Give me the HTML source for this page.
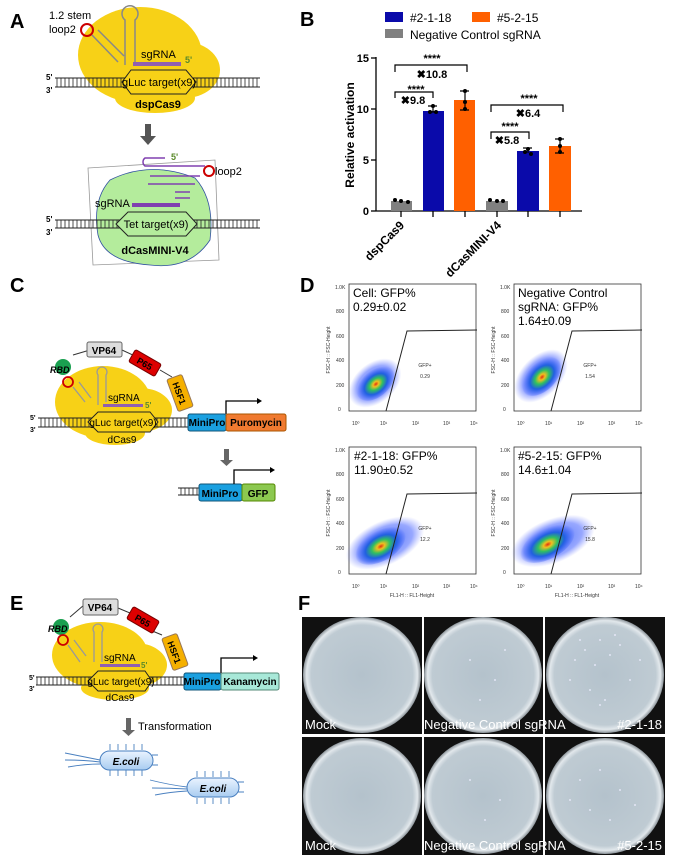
<!DOCTYPE html>
<html><head><meta charset="utf-8"><style>
body{margin:0;background:#fff}
svg{display:block;font-family:"Liberation Sans",Arial,sans-serif}
</style></head><body>
<svg width="676" height="860" viewBox="0 0 676 860" xmlns="http://www.w3.org/2000/svg">
<defs>
<radialGradient id="cl" cx="50%" cy="55%" r="50%">
<stop offset="0" stop-color="#e03010"/><stop offset="0.15" stop-color="#f0c020"/><stop offset="0.35" stop-color="#30c060"/><stop offset="0.6" stop-color="#2060e0"/><stop offset="1" stop-color="#3050ff" stop-opacity="0"/>
</radialGradient>
<radialGradient id="cb" cx="50%" cy="50%" r="50%">
<stop offset="0" stop-color="#2050f0" stop-opacity="0.8"/><stop offset="0.7" stop-color="#3050ff" stop-opacity="0.5"/><stop offset="1" stop-color="#6070ff" stop-opacity="0"/>
</radialGradient>
<radialGradient id="pl" cx="50%" cy="50%" r="50%">
<stop offset="0" stop-color="#b4c2cc"/><stop offset="0.86" stop-color="#bfcbd3"/><stop offset="0.94" stop-color="#e2e8ec"/><stop offset="1" stop-color="#8a9298"/>
</radialGradient>
<linearGradient id="ec" x1="0" y1="0" x2="0" y2="1"><stop offset="0" stop-color="#eaf3ff"/><stop offset="1" stop-color="#a8ccf0"/></linearGradient>
<pattern id="lad" width="4" height="9" patternUnits="userSpaceOnUse"><rect width="4" height="9" fill="none"/><line x1="1" y1="0" x2="1" y2="9" stroke="#222" stroke-width="0.8"/></pattern>
</defs>

<!-- ===== Panel A ===== -->
<text x="10" y="28" font-size="20" font-weight="bold">A</text>
<g fill="#f7d117">
<ellipse cx="140" cy="55" rx="62" ry="48"/><ellipse cx="185" cy="70" rx="35" ry="28"/><ellipse cx="155" cy="98" rx="40" ry="15"/>
</g>
<text x="49" y="19" font-size="11">1.2 stem</text><text x="49" y="33" font-size="11">loop2</text>
<circle cx="87" cy="30" r="6" fill="none" stroke="#c00" stroke-width="2"/>
<path d="M92 35 L118 62 M98 30 L124 56" stroke="#888" stroke-width="1.5" fill="none"/>
<path d="M125 65 L125 20 A8 8 0 1 1 135 20 L135 62" stroke="#888" stroke-width="1.5" fill="none"/>
<text x="141" y="58" font-size="11">sgRNA</text><text x="185" y="63" font-size="9" fill="#5a8a2a" font-weight="bold">5'</text>
<rect x="133" y="62" width="48" height="4" fill="#9060b0"/>
<rect x="55" y="78" width="205" height="9" fill="url(#lad)"/>
<line x1="55" y1="78" x2="260" y2="78" stroke="#222"/><line x1="55" y1="87" x2="260" y2="87" stroke="#222"/>
<polygon points="122,82 131,70 186,70 196,82 186,94 131,94" fill="#f7d117" stroke="#222"/>
<text x="159" y="86" font-size="11" text-anchor="middle">gLuc target(x9)</text>
<text x="46" y="80" font-size="8" font-weight="bold">5'</text><text x="46" y="93" font-size="8" font-weight="bold">3'</text>
<text x="158" y="108" font-size="11" font-weight="bold" text-anchor="middle">dspCas9</text>
<rect x="145" y="124" width="6" height="12" fill="#555"/><polygon points="140,136 156,136 148,145" fill="#555"/>
<polygon points="88,168 215,160 219,260 93,265" fill="none" stroke="#999" stroke-width="0.8"/>
<path d="M110 180 Q150 160 195 178 Q215 200 210 240 Q190 270 150 265 Q105 262 98 235 Q92 200 110 180Z" fill="#b4ec9c" stroke="#3050a0" stroke-width="0.8"/>
<text x="171" y="160" font-size="9" fill="#5a8a2a" font-weight="bold">5'</text>
<path d="M165 158 L145 158 A5 5 0 0 0 145 166 L205 166" stroke="#8040b0" stroke-width="1.5" fill="none"/>
<circle cx="209" cy="171" r="5" fill="none" stroke="#c00" stroke-width="2"/>
<path d="M150 176 L200 176 M148 184 L195 184 M175 192 L190 192 M175 198 L190 198" stroke="#8040b0" stroke-width="1.5"/>
<text x="215" y="175" font-size="11">loop2</text>
<text x="95" y="207" font-size="11">sgRNA</text>
<rect x="132" y="203" width="48" height="4" fill="#8040b0"/>
<rect x="55" y="220" width="205" height="8" fill="url(#lad)"/>
<line x1="55" y1="220" x2="260" y2="220" stroke="#222"/><line x1="55" y1="228" x2="260" y2="228" stroke="#222"/>
<polygon points="116,224 128,212 186,212 197,224 186,236 128,236" fill="#b4ec9c" stroke="#222"/>
<text x="156" y="228" font-size="11" text-anchor="middle">Tet target(x9)</text>
<text x="46" y="222" font-size="8" font-weight="bold">5'</text><text x="46" y="235" font-size="8" font-weight="bold">3'</text>
<text x="155" y="254" font-size="11" font-weight="bold" text-anchor="middle">dCasMINI-V4</text>

<!-- ===== Panel B ===== -->
<text x="300" y="26" font-size="20" font-weight="bold">B</text>
<rect x="385" y="12" width="18" height="10" fill="#0a0aaa"/><text x="410" y="22" font-size="12">#2-1-18</text>
<rect x="472" y="12" width="18" height="10" fill="#ff6000"/><text x="497" y="22" font-size="12">#5-2-15</text>
<rect x="385" y="29" width="18" height="9" fill="#808080"/><text x="410" y="39" font-size="12">Negative Control sgRNA</text>
<g stroke="#000" stroke-width="1.3">
<line x1="376" y1="57" x2="376" y2="211"/><line x1="376" y1="211" x2="582" y2="211"/>
<line x1="371" y1="58" x2="376" y2="58"/><line x1="371" y1="109" x2="376" y2="109"/><line x1="371" y1="160" x2="376" y2="160"/><line x1="371" y1="211" x2="376" y2="211"/>
<line x1="401" y1="211" x2="401" y2="217"/><line x1="433" y1="211" x2="433" y2="217"/><line x1="465" y1="211" x2="465" y2="217"/><line x1="497" y1="211" x2="497" y2="217"/><line x1="528" y1="211" x2="528" y2="217"/><line x1="560" y1="211" x2="560" y2="217"/>
</g>
<g font-size="11" font-weight="bold" text-anchor="end"><text x="369" y="62">15</text><text x="369" y="113">10</text><text x="369" y="164">5</text><text x="369" y="215">0</text></g>
<text transform="translate(354,135) rotate(-90)" font-size="12" font-weight="bold" text-anchor="middle">Relative activation</text>
<rect x="391" y="201" width="21" height="10" fill="#808080"/>
<rect x="423" y="111" width="21" height="100" fill="#0a0aaa"/>
<rect x="454" y="100" width="21" height="111" fill="#ff6000"/>
<rect x="486" y="201" width="22" height="10" fill="#808080"/>
<rect x="517" y="151" width="22" height="60" fill="#0a0aaa"/>
<rect x="549" y="146" width="22" height="65" fill="#ff6000"/>
<g stroke="#000" stroke-width="1.2" fill="none">
<path d="M428 106 h9 M433 106 v6 M428 112 h9"/><path d="M460 91 h9 M465 91 v18 M460 110 h9"/><path d="M523 148 h9 M528 148 v5"/><path d="M555 139 h9 M560 139 v14 M555 153 h9"/>
<path d="M395 72 v-7 h72 v7"/><path d="M395 98 v-6 h38 v6"/><path d="M491 112 v-7 h72 v7"/><path d="M491 139 v-7 h38 v7"/>
</g>
<g fill="#000"><circle cx="395" cy="200" r="2"/><circle cx="401" cy="201" r="2"/><circle cx="408" cy="202" r="2"/><circle cx="433" cy="106" r="2"/><circle cx="430" cy="112" r="2"/><circle cx="436" cy="112" r="2"/><circle cx="465" cy="91" r="2"/><circle cx="465" cy="102" r="2"/><circle cx="465" cy="109" r="2"/><circle cx="490" cy="200" r="2"/><circle cx="497" cy="201" r="2"/><circle cx="503" cy="201" r="2"/><circle cx="528" cy="149" r="2"/><circle cx="525" cy="152" r="2"/><circle cx="531" cy="154" r="2"/><circle cx="560" cy="139" r="2"/><circle cx="560" cy="146" r="2"/><circle cx="560" cy="152" r="2"/></g>
<g font-size="11" font-weight="bold" text-anchor="middle">
<text x="432" y="62">****</text><text x="432" y="78">✖10.8</text>
<text x="416" y="93">****</text><text x="413" y="104">✖9.8</text>
<text x="529" y="102">****</text><text x="528" y="117">✖6.4</text>
<text x="510" y="130">****</text><text x="507" y="144">✖5.8</text>
</g>
<text transform="translate(405,226) rotate(-45)" font-size="12" font-weight="bold" text-anchor="end">dspCas9</text>
<text transform="translate(502,226) rotate(-45)" font-size="12" font-weight="bold" text-anchor="end">dCasMINI-V4</text>

<!-- ===== Panel C ===== -->
<text x="10" y="292" font-size="20" font-weight="bold">C</text>
<g fill="#f7d117"><ellipse cx="103" cy="402" rx="48" ry="36"/><ellipse cx="140" cy="410" rx="32" ry="22"/><ellipse cx="115" cy="433" rx="30" ry="12"/></g>
<path d="M73 355 L100 347 M122 350 L137 357 M160 370 L172 377" stroke="#333"/>
<ellipse cx="63" cy="367" rx="8" ry="8" fill="#1aa050"/><text x="50" y="373" font-size="9" font-style="italic" font-weight="bold">RBD</text>
<rect x="87" y="342" width="35" height="15" rx="2" fill="#ddd" stroke="#666"/><text x="104" y="354" font-size="10" font-weight="bold" text-anchor="middle">VP64</text>
<g transform="translate(145,363) rotate(30)"><rect x="-15" y="-7" width="30" height="14" rx="2" fill="#d00" stroke="#700"/><text y="4" font-size="9" font-weight="bold" text-anchor="middle">P65</text></g>
<g transform="translate(180,393) rotate(70)"><rect x="-17" y="-8" width="34" height="16" rx="2" fill="#f5b000" stroke="#975"/><text y="4" font-size="9" font-weight="bold" text-anchor="middle">HSF1</text></g>
<circle cx="68" cy="382" r="5" fill="none" stroke="#c00" stroke-width="1.8"/>
<path d="M73 387 L85 402 M79 382 L91 398 M98 405 L98 375 A5 5 0 1 1 106 375 L106 402" stroke="#999" stroke-width="1.3" fill="none"/>
<text x="108" y="401" font-size="10">sgRNA</text><text x="145" y="408" font-size="8" fill="#5a8a2a" font-weight="bold">5'</text>
<rect x="103" y="404" width="40" height="3" fill="#9060b0"/>
<rect x="38" y="418" width="150" height="9" fill="url(#lad)"/>
<line x1="38" y1="418" x2="188" y2="418" stroke="#222"/><line x1="38" y1="427" x2="188" y2="427" stroke="#222"/>
<polygon points="88,422 98,412 150,412 158,422 150,432 98,432" fill="#f7d117" stroke="#222"/>
<text x="123" y="426" font-size="10" text-anchor="middle">gLuc target(x9)</text>
<text x="30" y="420" font-size="7" font-weight="bold">5'</text><text x="30" y="432" font-size="7" font-weight="bold">3'</text>
<text x="122" y="443" font-size="10" text-anchor="middle">dCas9</text>
<rect x="188" y="414" width="38" height="17" rx="2" fill="#1aa0e0" stroke="#157"/><text x="207" y="426" font-size="10" font-weight="bold" text-anchor="middle">MiniPro</text>
<rect x="226" y="414" width="60" height="17" rx="2" fill="#f07a30" stroke="#a50"/><text x="256" y="426" font-size="10" font-weight="bold" text-anchor="middle">Puromycin</text>
<path d="M226 414 V401 H257" stroke="#000" stroke-width="1.3" fill="none"/><polygon points="257,398 262,401 257,404"/>
<rect x="224" y="449" width="5" height="11" fill="#666"/><polygon points="220,460 233,460 226.5,466" fill="#666"/>
<rect x="178" y="488" width="21" height="7" fill="url(#lad)"/><line x1="178" y1="488" x2="199" y2="488" stroke="#222"/><line x1="178" y1="495" x2="199" y2="495" stroke="#222"/>
<rect x="199" y="484" width="43" height="17" rx="2" fill="#1aa0e0" stroke="#157"/><text x="220" y="497" font-size="10" font-weight="bold" text-anchor="middle">MiniPro</text>
<rect x="242" y="484" width="33" height="17" rx="2" fill="#8cc850" stroke="#580"/><text x="258" y="497" font-size="10" font-weight="bold" text-anchor="middle">GFP</text>
<path d="M234 484 V470 H270" stroke="#000" stroke-width="1.3" fill="none"/><polygon points="270,467 275,470 270,473"/>

<!-- ===== Panel D ===== -->
<text x="300" y="292" font-size="20" font-weight="bold">D</text>
<g font-size="5" fill="#333">
<g>
<rect x="349" y="284" width="127" height="127" fill="none" stroke="#333" stroke-width="0.8"/>
<ellipse cx="375" cy="383" rx="30" ry="20" transform="rotate(-40 375 383)" fill="url(#cb)"/>
<ellipse cx="375" cy="383" rx="22" ry="14" transform="rotate(-40 375 383)" fill="url(#cl)"/>
<polyline points="386,411 407,331 477,330" fill="none" stroke="#222"/>
<text x="425" y="367" text-anchor="middle">GFP+</text><text x="425" y="378" text-anchor="middle">0.29</text>
<text x="338" y="411">0</text><text x="336" y="387">200</text><text x="336" y="362">400</text><text x="336" y="338">600</text><text x="336" y="313">800</text><text x="335" y="289">1.0K</text>
<text x="352" y="425">10⁰</text><text x="380" y="425">10¹</text><text x="412" y="425">10²</text><text x="443" y="425">10³</text><text x="470" y="425">10⁴</text>
<text transform="translate(330,350) rotate(-90)" text-anchor="middle">FSC-H :: FSC-Height</text>
</g>
<g transform="translate(165,0)">
<rect x="349" y="284" width="127" height="127" fill="none" stroke="#333" stroke-width="0.8"/>
<ellipse cx="376" cy="376" rx="32" ry="20" transform="rotate(-45 376 376)" fill="url(#cb)"/>
<ellipse cx="376" cy="376" rx="24" ry="15" transform="rotate(-45 376 376)" fill="url(#cl)"/>
<polyline points="386,411 407,331 477,330" fill="none" stroke="#222"/>
<text x="425" y="367" text-anchor="middle">GFP+</text><text x="425" y="378" text-anchor="middle">1.54</text>
<text x="338" y="411">0</text><text x="336" y="387">200</text><text x="336" y="362">400</text><text x="336" y="338">600</text><text x="336" y="313">800</text><text x="335" y="289">1.0K</text>
<text x="352" y="425">10⁰</text><text x="380" y="425">10¹</text><text x="412" y="425">10²</text><text x="443" y="425">10³</text><text x="470" y="425">10⁴</text>
<text transform="translate(330,350) rotate(-90)" text-anchor="middle">FSC-H :: FSC-Height</text>
</g>
<g transform="translate(0,163)">
<rect x="349" y="284" width="127" height="127" fill="none" stroke="#333" stroke-width="0.8"/>
<ellipse cx="385" cy="380" rx="42" ry="22" transform="rotate(-25 385 380)" fill="url(#cb)"/>
<ellipse cx="380" cy="382" rx="28" ry="16" transform="rotate(-30 380 382)" fill="url(#cl)"/>
<polyline points="386,411 407,331 477,330" fill="none" stroke="#222"/>
<text x="425" y="367" text-anchor="middle">GFP+</text><text x="425" y="378" text-anchor="middle">12.2</text>
<text x="338" y="411">0</text><text x="336" y="387">200</text><text x="336" y="362">400</text><text x="336" y="338">600</text><text x="336" y="313">800</text><text x="335" y="289">1.0K</text>
<text x="352" y="425">10⁰</text><text x="380" y="425">10¹</text><text x="412" y="425">10²</text><text x="443" y="425">10³</text><text x="470" y="425">10⁴</text>
<text transform="translate(330,350) rotate(-90)" text-anchor="middle">FSC-H :: FSC-Height</text>
<text x="412" y="434" text-anchor="middle">FL1-H :: FL1-Height</text>
</g>
<g transform="translate(165,163)">
<rect x="349" y="284" width="127" height="127" fill="none" stroke="#333" stroke-width="0.8"/>
<ellipse cx="388" cy="378" rx="44" ry="22" transform="rotate(-22 388 378)" fill="url(#cb)"/>
<ellipse cx="382" cy="380" rx="30" ry="16" transform="rotate(-28 382 380)" fill="url(#cl)"/>
<polyline points="386,411 407,331 477,330" fill="none" stroke="#222"/>
<text x="425" y="367" text-anchor="middle">GFP+</text><text x="425" y="378" text-anchor="middle">15.8</text>
<text x="338" y="411">0</text><text x="336" y="387">200</text><text x="336" y="362">400</text><text x="336" y="338">600</text><text x="336" y="313">800</text><text x="335" y="289">1.0K</text>
<text x="352" y="425">10⁰</text><text x="380" y="425">10¹</text><text x="412" y="425">10²</text><text x="443" y="425">10³</text><text x="470" y="425">10⁴</text>
<text transform="translate(330,350) rotate(-90)" text-anchor="middle">FSC-H :: FSC-Height</text>
<text x="412" y="434" text-anchor="middle">FL1-H :: FL1-Height</text>
</g>
</g>
<g font-size="12">
<text x="353" y="297">Cell: GFP%</text><text x="353" y="311">0.29±0.02</text>
<text x="518" y="297">Negative Control</text><text x="518" y="311">sgRNA: GFP%</text><text x="518" y="325">1.64±0.09</text>
<text x="354" y="460">#2-1-18: GFP%</text><text x="354" y="474">11.90±0.52</text>
<text x="518" y="460">#5-2-15: GFP%</text><text x="518" y="474">14.6±1.04</text>
</g>

<!-- ===== Panel E ===== -->
<text x="10" y="610" font-size="20" font-weight="bold">E</text>
<g fill="#f7d117"><ellipse cx="100" cy="655" rx="48" ry="33"/><ellipse cx="135" cy="665" rx="32" ry="22"/><ellipse cx="115" cy="688" rx="34" ry="12"/></g>
<path d="M70 617 L84 605 M118 608 L130 613 M150 630 L162 635" stroke="#333"/>
<ellipse cx="61" cy="627" rx="8" ry="8" fill="#1aa050"/><text x="48" y="632" font-size="9" font-style="italic" font-weight="bold">RBD</text>
<rect x="83" y="599" width="35" height="16" rx="2" fill="#ddd" stroke="#666"/><text x="100" y="611" font-size="10" font-weight="bold" text-anchor="middle">VP64</text>
<g transform="translate(143,620) rotate(30)"><rect x="-15" y="-7" width="30" height="14" rx="2" fill="#d00" stroke="#700"/><text y="4" font-size="9" font-weight="bold" text-anchor="middle">P65</text></g>
<g transform="translate(175,652) rotate(70)"><rect x="-17" y="-8" width="34" height="16" rx="2" fill="#f5b000" stroke="#975"/><text y="4" font-size="9" font-weight="bold" text-anchor="middle">HSF1</text></g>
<circle cx="63" cy="640" r="5" fill="none" stroke="#c00" stroke-width="1.8"/>
<path d="M68 645 L80 662 M74 640 L86 656 M94 662 L94 632 A5 5 0 1 1 102 632 L102 662" stroke="#999" stroke-width="1.3" fill="none"/>
<text x="104" y="661" font-size="10">sgRNA</text><text x="141" y="668" font-size="8" fill="#5a8a2a" font-weight="bold">5'</text>
<rect x="100" y="664" width="40" height="3" fill="#9060b0"/>
<rect x="36" y="677" width="150" height="8" fill="url(#lad)"/>
<line x1="36" y1="677" x2="186" y2="677" stroke="#222"/><line x1="36" y1="685" x2="186" y2="685" stroke="#222"/>
<polygon points="88,681 98,671 145,671 152,681 145,691 98,691" fill="#f7d117" stroke="#222"/>
<text x="121" y="685" font-size="10" text-anchor="middle">gLuc target(x9)</text>
<text x="29" y="680" font-size="7" font-weight="bold">5'</text><text x="29" y="691" font-size="7" font-weight="bold">3'</text>
<text x="120" y="701" font-size="10" text-anchor="middle">dCas9</text>
<rect x="184" y="673" width="37" height="17" rx="2" fill="#1aa0e0" stroke="#157"/><text x="202" y="685" font-size="10" font-weight="bold" text-anchor="middle">MiniPro</text>
<rect x="221" y="673" width="58" height="17" rx="2" fill="#a8e8d8" stroke="#587"/><text x="250" y="685" font-size="10" font-weight="bold" text-anchor="middle">Kanamycin</text>
<path d="M221 673 V658 H253" stroke="#000" stroke-width="1.3" fill="none"/><polygon points="253,655 258,658 253,661"/>
<rect x="126" y="718" width="5" height="12" fill="#666"/><polygon points="122,730 135,730 128.5,736" fill="#666"/>
<text x="138" y="730" font-size="11">Transformation</text>
<g stroke="#4a80c0" stroke-width="0.9" fill="none">
<path d="M65 753 Q85 757 100 760 M65 760 Q85 760 100 762 M68 767 Q85 764 100 764"/>
<path d="M110 750 v-6 M118 750 v-6 M126 750 v-6 M134 750 v-6 M142 750 v-6 M110 770 v6 M118 770 v6 M126 770 v6 M134 770 v6 M142 770 v6 M152 755 h6 M152 765 h6"/>
<path d="M150 780 Q170 785 187 787 M152 788 Q170 788 187 789 M155 795 Q170 792 187 791"/>
<path d="M197 777 v-6 M205 777 v-6 M213 777 v-6 M221 777 v-6 M229 777 v-6 M197 798 v6 M205 798 v6 M213 798 v6 M221 798 v6 M229 798 v6 M238 782 h6 M238 792 h6"/>
</g>
<rect x="100" y="751" width="53" height="19" rx="9.5" fill="url(#ec)" stroke="#4a80c0"/>
<text x="126" y="765" font-size="10" font-weight="bold" font-style="italic" text-anchor="middle">E.coli</text>
<rect x="187" y="778" width="52" height="19" rx="9.5" fill="url(#ec)" stroke="#4a80c0"/>
<text x="213" y="792" font-size="10" font-weight="bold" font-style="italic" text-anchor="middle">E.coli</text>

<!-- ===== Panel F ===== -->
<text x="298" y="610" font-size="20" font-weight="bold">F</text>
<g>
<rect x="302" y="617" width="120" height="117" fill="#111"/><ellipse cx="362" cy="675" rx="59" ry="58" fill="url(#pl)"/>
<rect x="424" y="617" width="119" height="117" fill="#111"/><ellipse cx="483" cy="675" rx="59" ry="58" fill="url(#pl)"/>
<rect x="545" y="617" width="120" height="117" fill="#111"/><ellipse cx="605" cy="675" rx="59" ry="58" fill="url(#pl)"/>
<rect x="302" y="737" width="120" height="118" fill="#111"/><ellipse cx="362" cy="796" rx="59" ry="58" fill="url(#pl)"/>
<rect x="424" y="737" width="119" height="118" fill="#111"/><ellipse cx="483" cy="796" rx="59" ry="58" fill="url(#pl)"/>
<rect x="545" y="737" width="120" height="118" fill="#111"/><ellipse cx="605" cy="796" rx="59" ry="58" fill="url(#pl)"/>
</g>
<g fill="#eef" opacity="0.8">
<circle cx="575" cy="660" r="1"/><circle cx="585" cy="650" r="1"/><circle cx="600" cy="640" r="1"/><circle cx="610" cy="655" r="1"/><circle cx="620" cy="645" r="1"/><circle cx="590" cy="690" r="1"/><circle cx="605" cy="700" r="1"/><circle cx="630" cy="680" r="1"/><circle cx="570" cy="680" r="1"/><circle cx="595" cy="665" r="1"/><circle cx="640" cy="660" r="1"/><circle cx="615" cy="635" r="1"/><circle cx="580" cy="640" r="1"/><circle cx="600" cy="705" r="1"/>
<circle cx="470" cy="660" r="1"/><circle cx="495" cy="680" r="1"/><circle cx="505" cy="650" r="1"/><circle cx="480" cy="700" r="1"/>
<circle cx="580" cy="780" r="1"/><circle cx="600" cy="770" r="1"/><circle cx="620" cy="790" r="1"/><circle cx="590" cy="810" r="1"/><circle cx="610" cy="820" r="1"/><circle cx="570" cy="800" r="1"/><circle cx="635" cy="805" r="1"/>
<circle cx="470" cy="780" r="1"/><circle cx="500" cy="800" r="1"/><circle cx="485" cy="820" r="1"/>
</g>
<g font-size="13" fill="#fff">
<text x="305" y="729">Mock</text><text x="424" y="729">Negative Control sgRNA</text><text x="662" y="729" text-anchor="end">#2-1-18</text>
<text x="305" y="850">Mock</text><text x="424" y="850">Negative Control sgRNA</text><text x="662" y="850" text-anchor="end">#5-2-15</text>
</g>
</svg>
</body></html>
